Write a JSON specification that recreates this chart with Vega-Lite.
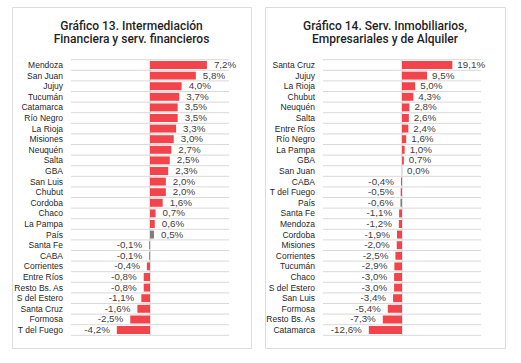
{
  "$schema": "https://vega.github.io/schema/vega-lite/v6.json",
  "padding": {"left": 11, "top": 6, "right": 0, "bottom": 0},
  "background": "white",
  "config": {
    "locale": {"number": {"decimal": ",", "thousands": ".", "grouping": [3], "currency": ["$", ""], "minus": "-"}},
    "view": {"stroke": "#dcdcdc", "strokeWidth": 1},
    "concat": {"spacing": 12},
    "title": {"anchor": "middle", "font": "Roboto", "fontWeight": 500, "fontSize": 12, "color": "#1f1f1f", "lineHeight": 13, "offset": -38.5}
  },
  "hconcat": [
    {
      "width": 239,
      "height": 341,
      "title": {"text": ["Gráfico 13. Intermediación", "Financiera y serv. financieros"]},
      "data": {"values": [
        {"region": "Mendoza", "v": 0.072},
        {"region": "San Juan", "v": 0.058},
        {"region": "Jujuy", "v": 0.040},
        {"region": "Tucumán", "v": 0.037},
        {"region": "Catamarca", "v": 0.035},
        {"region": "Río Negro", "v": 0.035},
        {"region": "La Rioja", "v": 0.033},
        {"region": "Misiones", "v": 0.030},
        {"region": "Neuquén", "v": 0.027},
        {"region": "Salta", "v": 0.025},
        {"region": "GBA", "v": 0.023},
        {"region": "San Luis", "v": 0.020},
        {"region": "Chubut", "v": 0.020},
        {"region": "Cordoba", "v": 0.016},
        {"region": "Chaco", "v": 0.007},
        {"region": "La Pampa", "v": 0.006},
        {"region": "País", "v": 0.005},
        {"region": "Santa Fe", "v": -0.001},
        {"region": "CABA", "v": -0.001},
        {"region": "Corrientes", "v": -0.004},
        {"region": "Entre Ríos", "v": -0.008},
        {"region": "Resto Bs. As", "v": -0.008},
        {"region": "S del Estero", "v": -0.011},
        {"region": "Santa Cruz", "v": -0.016},
        {"region": "Formosa", "v": -0.025},
        {"region": "T del Fuego", "v": -0.042}
      ]},
      "encoding": {
        "y": {"field": "region", "type": "nominal", "sort": null, "axis": null,
              "scale": {"paddingInner": 0, "paddingOuter": 0, "range": [52.7, 328.3]}}
      },
      "layer": [
        {
          "mark": {"type": "rule", "color": "#d9d9d9", "strokeWidth": 1},
          "encoding": {
            "x": {"datum": -0.1, "type": "quantitative", "scale": {"domain": [-0.1747, 0.1278], "nice": false, "zero": false}, "axis": null},
            "x2": {"datum": 0.1},
            "y": {"field": "region", "type": "nominal", "sort": null, "bandPosition": 0}
          }
        },
        {
          "transform": [{"filter": "datum.region === 'T del Fuego'"}],
          "mark": {"type": "rule", "color": "#d9d9d9", "strokeWidth": 1},
          "encoding": {
            "x": {"datum": -0.1, "type": "quantitative"},
            "x2": {"datum": 0.1},
            "y": {"field": "region", "type": "nominal", "sort": null, "bandPosition": 1}
          }
        },
        {
          "mark": {"type": "rect", "fill": null, "fillOpacity": 0, "stroke": "#d9d9d9", "strokeWidth": 1},
          "encoding": {
            "x": {"datum": 0, "type": "quantitative"},
            "x2": {"datum": 0}
          }
        },
        {
          "mark": {"type": "bar", "height": {"band": 0.75}},
          "encoding": {
            "x": {"field": "v", "type": "quantitative"},
            "x2": {"datum": 0},
            "color": {"condition": {"test": "datum.region === 'País'", "value": "#7f7f7f"}, "value": "#f2444a"}
          }
        },
        {
          "transform": [{"filter": "datum.v >= 0"}],
          "mark": {"type": "text", "align": "left", "baseline": "middle", "dx": 7, "font": "Liberation Sans", "fontSize": 9.8, "color": "#404040"},
          "encoding": {
            "x": {"field": "v", "type": "quantitative"},
            "text": {"field": "v", "type": "quantitative", "format": ".1%"}
          }
        },
        {
          "transform": [{"filter": "datum.v < 0"}],
          "mark": {"type": "text", "align": "right", "baseline": "middle", "dx": -7, "font": "Liberation Sans", "fontSize": 9.8, "color": "#404040"},
          "encoding": {
            "x": {"field": "v", "type": "quantitative"},
            "text": {"field": "v", "type": "quantitative", "format": ".1%"}
          }
        },
        {
          "mark": {"type": "text", "align": "right", "baseline": "middle", "font": "Liberation Sans", "fontSize": 8.5, "color": "#1f1f1f"},
          "encoding": {
            "x": {"datum": -0.1101, "type": "quantitative"},
            "text": {"field": "region", "type": "nominal"}
          }
        }
      ]
    },
    {
      "width": 240,
      "height": 341,
      "title": {"text": ["Gráfico 14. Serv. Inmobiliarios,", "Empresariales y de Alquiler"]},
      "data": {"values": [
        {"region": "Santa Cruz", "v": 0.191},
        {"region": "Jujuy", "v": 0.095},
        {"region": "La Rioja", "v": 0.050},
        {"region": "Chubut", "v": 0.043},
        {"region": "Neuquén", "v": 0.028},
        {"region": "Salta", "v": 0.026},
        {"region": "Entre Ríos", "v": 0.024},
        {"region": "Río Negro", "v": 0.016},
        {"region": "La Pampa", "v": 0.010},
        {"region": "GBA", "v": 0.007},
        {"region": "San Juan", "v": 0.000},
        {"region": "CABA", "v": -0.004},
        {"region": "T del Fuego", "v": -0.005},
        {"region": "País", "v": -0.006},
        {"region": "Santa Fe", "v": -0.011},
        {"region": "Mendoza", "v": -0.012},
        {"region": "Cordoba", "v": -0.019},
        {"region": "Misiones", "v": -0.020},
        {"region": "Corrientes", "v": -0.025},
        {"region": "Tucumán", "v": -0.029},
        {"region": "Chaco", "v": -0.030},
        {"region": "S del Estero", "v": -0.030},
        {"region": "San Luis", "v": -0.034},
        {"region": "Formosa", "v": -0.054},
        {"region": "Resto Bs. As", "v": -0.073},
        {"region": "Catamarca", "v": -0.126}
      ]},
      "encoding": {
        "y": {"field": "region", "type": "nominal", "sort": null, "axis": null,
              "scale": {"paddingInner": 0, "paddingOuter": 0, "range": [52.7, 328.3]}}
      },
      "layer": [
        {
          "mark": {"type": "rule", "color": "#d9d9d9", "strokeWidth": 1},
          "encoding": {
            "x": {"datum": -0.3, "type": "quantitative", "scale": {"domain": [-0.5203, 0.3911], "nice": false, "zero": false}, "axis": null},
            "x2": {"datum": 0.3},
            "y": {"field": "region", "type": "nominal", "sort": null, "bandPosition": 0}
          }
        },
        {
          "transform": [{"filter": "datum.region === 'Catamarca'"}],
          "mark": {"type": "rule", "color": "#d9d9d9", "strokeWidth": 1},
          "encoding": {
            "x": {"datum": -0.3, "type": "quantitative"},
            "x2": {"datum": 0.3},
            "y": {"field": "region", "type": "nominal", "sort": null, "bandPosition": 1}
          }
        },
        {
          "mark": {"type": "rect", "fill": null, "fillOpacity": 0, "stroke": "#d9d9d9", "strokeWidth": 1},
          "encoding": {
            "x": {"datum": 0, "type": "quantitative"},
            "x2": {"datum": 0}
          }
        },
        {
          "mark": {"type": "bar", "height": {"band": 0.75}},
          "encoding": {
            "x": {"field": "v", "type": "quantitative"},
            "x2": {"datum": 0},
            "color": {"condition": {"test": "datum.region === 'País'", "value": "#7f7f7f"}, "value": "#f2444a"}
          }
        },
        {
          "transform": [{"filter": "datum.v >= 0"}],
          "mark": {"type": "text", "align": "left", "baseline": "middle", "dx": 5, "font": "Liberation Sans", "fontSize": 9.8, "color": "#404040"},
          "encoding": {
            "x": {"field": "v", "type": "quantitative"},
            "text": {"field": "v", "type": "quantitative", "format": ".1%"}
          }
        },
        {
          "transform": [{"filter": "datum.v < 0"}],
          "mark": {"type": "text", "align": "right", "baseline": "middle", "dx": -7, "font": "Liberation Sans", "fontSize": 9.8, "color": "#404040"},
          "encoding": {
            "x": {"field": "v", "type": "quantitative"},
            "text": {"field": "v", "type": "quantitative", "format": ".1%"}
          }
        },
        {
          "mark": {"type": "text", "align": "right", "baseline": "middle", "font": "Liberation Sans", "fontSize": 8.5, "color": "#1f1f1f"},
          "encoding": {
            "x": {"datum": -0.3304, "type": "quantitative"},
            "text": {"field": "region", "type": "nominal"}
          }
        }
      ]
    }
  ]
}
